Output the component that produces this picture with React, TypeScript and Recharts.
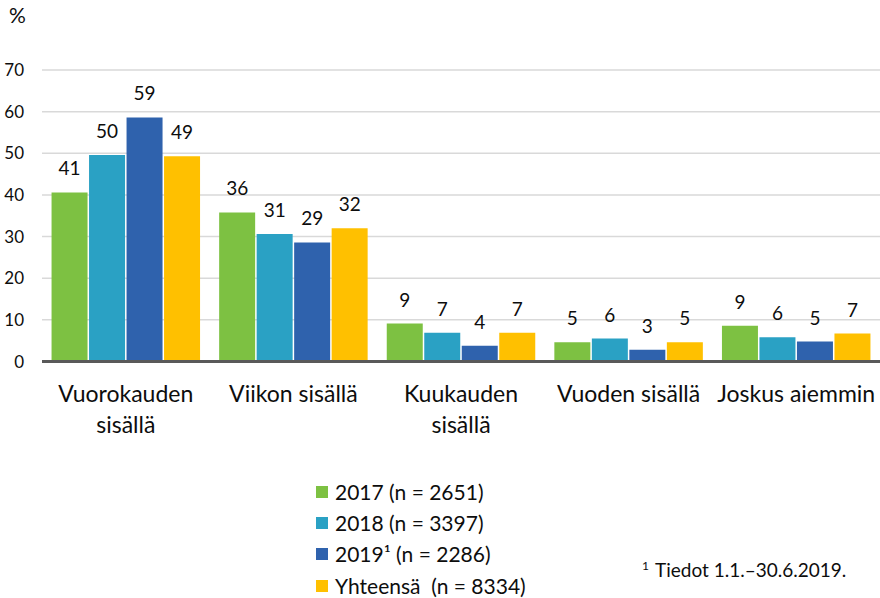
import React from 'react';
import { BarChart, Bar, XAxis, YAxis, CartesianGrid, LabelList, Legend } from 'recharts';

const FONT = "Lato, 'Open Sans', 'Liberation Sans', sans-serif";

const categories = ['Vuorokauden\nsisällä', 'Viikon sisällä', 'Kuukauden\nsisällä', 'Vuoden sisällä', 'Joskus aiemmin'];
const seriesNames = ['2017 (n = 2651)', '2018 (n = 3397)', '2019\u00b9 (n = 2286)', 'Yhteensä  (n = 8334)'];
const seriesColors = ['#7DC142', '#2AA1C4', '#2F62AD', '#FFC000'];
const values2017 = [40.6, 35.8, 9.1, 4.6, 8.6];
const values2018 = [49.6, 30.6, 6.9, 5.5, 5.8];
const values2019 = [58.6, 28.6, 3.8, 2.8, 4.8];
const valuesTotal = [49.3, 32.0, 6.9, 4.6, 6.7];
const yTicks = [0, 10, 20, 30, 40, 50, 60, 70];
const unitLabel = '%';
const footnoteMark = '1';
const footnoteText = 'Tiedot 1.1.–30.6.2019.';

const seriesValues = [values2017, values2018, values2019, valuesTotal];
const keys = ['s0', 's1', 's2', 's3'];

const data = categories.map((c, i) => {
  const row: any = { category: c };
  keys.forEach((k, j) => {
    row[k] = seriesValues[j][i];
  });
  return row;
});

const CategoryTick = (props: any) => {
  const { x, y, payload } = props;
  const lines = String(payload.value).split('\n');
  return (
    <text x={x} y={y} textAnchor="middle" fontFamily={FONT} fontSize={23} fill="#0d0d0d">
      {lines.map((l, i) => (
        <tspan key={i} x={x} dy={i === 0 ? 40.5 : 30.5}>
          {l}
        </tspan>
      ))}
    </text>
  );
};

const renderLegend = (props: any) => {
  const { payload } = props;
  return (
    <div style={{ fontFamily: FONT, fontSize: 21, color: '#0d0d0d' }}>
      {(payload || []).map((entry: any) => (
        <div
          key={entry.value}
          style={{ display: 'flex', alignItems: 'center', height: 31.4, whiteSpace: 'pre', lineHeight: '24px' }}
        >
          <span
            style={{
              display: 'inline-block',
              width: 12,
              height: 12,
              background: entry.color,
              marginRight: 7,
              flexShrink: 0,
            }}
          />
          <span>{entry.value}</span>
        </div>
      ))}
    </div>
  );
};

export default function App() {
  return (
    <div style={{ position: 'absolute', left: 0, top: 0, width: 880, height: 598, background: '#fff' }}>
      <BarChart
        width={880}
        height={598}
        data={data}
        margin={{ top: 70, right: 0, bottom: 176.5, left: 0 }}
        barCategoryGap={9.55}
        barGap={1.5}
      >
        <CartesianGrid vertical={false} stroke="#d9d9d9" strokeWidth={1.5} />
        <XAxis
          dataKey="category"
          height={60}
          tickLine={false}
          tickSize={0}
          tickMargin={0}
          axisLine={{ stroke: '#595959', strokeWidth: 3 }}
          tick={<CategoryTick />}
          interval={0}
        />
        <YAxis
          width={42}
          domain={[0, 70]}
          ticks={yTicks}
          axisLine={false}
          tickLine={false}
          tickSize={0}
          tickMargin={18}
          tick={{ fontFamily: FONT, fontSize: 17, fill: '#0d0d0d' }}
          interval={0}
        />
        <Legend
          layout="vertical"
          align="center"
          verticalAlign="middle"
          width={300}
          content={renderLegend}
          wrapperStyle={{ left: 316, top: 476, width: 300 }}
        />
        {keys.map((k, j) => (
          <Bar key={k} dataKey={k} name={seriesNames[j]} fill={seriesColors[j]} isAnimationActive={false}>
            <LabelList
              dataKey={k}
              position="top"
              offset={17}
              formatter={(v: any) => Math.round(Number(v))}
              style={{ fontFamily: FONT, fontSize: 19, fill: '#0d0d0d' }}
            />
          </Bar>
        ))}
      </BarChart>
      <svg
        width={880}
        height={598}
        style={{ position: 'absolute', left: 0, top: 0, pointerEvents: 'none' }}
      >
        <text x={9} y={23} fontFamily={FONT} fontSize={21} fill="#0d0d0d">
          {unitLabel}
        </text>
        <text x={642} y={577} fontFamily={FONT} fill="#0d0d0d">
          <tspan fontSize={12} dy={-7}>
            {footnoteMark}
          </tspan>
          <tspan fontSize={19} dy={7} x={655}>
            {footnoteText}
          </tspan>
        </text>
      </svg>
    </div>
  );
}
